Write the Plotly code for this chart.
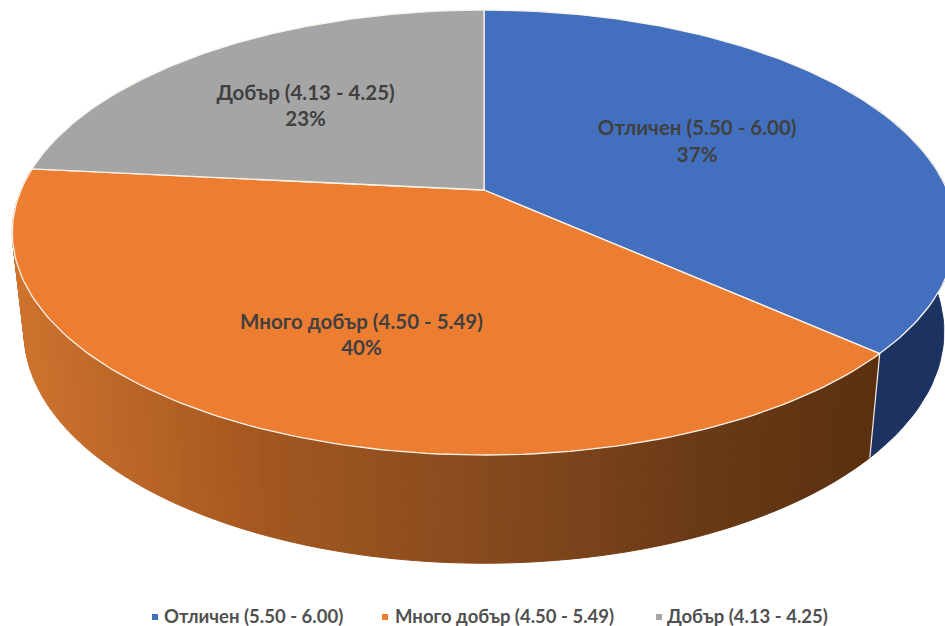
import math
import plotly.graph_objects as go

categories = ["Отличен (5.50 - 6.00)", "Много добър (4.50 - 5.49)", "Добър (4.13 - 4.25)"]
values = [36.6, 40.0, 23.4]

W, H = 945, 626
TOP_COLORS = ["#4270BF", "#ED7D31", "#A5A5A5"]
APEX_X, APEX_Y = 484, 190
A, B, K = 463, 214.4, 0.191
SIDE_STOPS = [(12, (206, 115, 46)), (250, (165, 88, 32)), (484, (135, 74, 30)), (700, (106, 58, 22)), (880, (90, 48, 15))]
BLUE_SIDE = "#1C3260"
LABEL_RADIUS = [0.52, 0.63, 0.58]
LABEL_SHIFT = [(2, -3), (9.5, 8), (-12, 3)]
KEY_MARK_X = [155, 385, 659]
KEY_TEXT_X = [164, 395, 667]
KEY_MARK_Y = 617
KEY_TEXT_Y = 618.5
TEXT_COLOR = "#404040"
FONT = "Lato, Roboto, sans-serif"


def project(t, r=1.0):
    u, v = r * math.sin(t), -r * math.cos(t)
    d = 1 - K * v
    return APEX_X + A * u / d, APEX_Y + B * v / d


def lower(x, y):
    return APEX_X + 0.975 * (x - APEX_X), 90 + 1.04 * y


def side_color(x):
    for (x0, c0), (x1, c1) in zip(SIDE_STOPS, SIDE_STOPS[1:]):
        if x <= x1:
            f = max(0, (x - x0) / (x1 - x0))
            return "rgb(%d,%d,%d)" % tuple(round(a + (b - a) * f) for a, b in zip(c0, c1))
    return "rgb(%d,%d,%d)" % SIDE_STOPS[-1][1]


total = sum(values)
edges = [0.0]
for val in values:
    edges.append(edges[-1] + val / total * 2 * math.pi)

fig = go.Figure()


def add_poly(xs, ys, fill, line_color=None, width=1.0):
    fig.add_trace(go.Scatter(x=xs, y=ys, mode="lines", fill="toself", fillcolor=fill,
                             line=dict(color=line_color or fill, width=width),
                             hoverinfo="skip", showlegend=False))


# side wall: blue part, then gradient strips of the orange part
side_start = math.radians(60)
n = 40
ts = [side_start + (edges[1] - side_start) * i / n for i in range(n + 1)]
top = [project(t) for t in ts]
bot = [lower(*p) for p in top]
add_poly([p[0] for p in top] + [p[0] for p in reversed(bot)],
         [p[1] for p in top] + [p[1] for p in reversed(bot)], BLUE_SIDE)

n = 150
ts = [edges[1] + (edges[2] - edges[1]) * i / n for i in range(n + 1)]
for t0, t1 in zip(ts, ts[1:]):
    p0, p1 = project(t0), project(t1)
    q0, q1 = lower(*p0), lower(*p1)
    add_poly([p0[0], p1[0], q1[0], q0[0], p0[0]], [p0[1], p1[1], q1[1], q0[1], p0[1]],
             side_color((p0[0] + p1[0]) / 2))

# white seam between the two walls
p = project(edges[1])
q = lower(*p)
fig.add_trace(go.Scatter(x=[p[0], q[0]], y=[p[1], q[1]], mode="lines", line=dict(color="#F4EDE6", width=1.2),
                         hoverinfo="skip", showlegend=False))

# top faces
for i, cat in enumerate(categories):
    n = 120
    pts = [project(edges[i] + (edges[i + 1] - edges[i]) * j / n) for j in range(n + 1)]
    xs = [APEX_X] + [p[0] for p in pts] + [APEX_X]
    ys = [APEX_Y] + [p[1] for p in pts] + [APEX_Y]
    add_poly(xs, ys, TOP_COLORS[i], "#FBF3EA", 1.3)

# data labels
lx, ly, lt = [], [], []
for i, cat in enumerate(categories):
    mid = (edges[i] + edges[i + 1]) / 2
    x, y = project(mid, LABEL_RADIUS[i])
    lx.append(x + LABEL_SHIFT[i][0])
    ly.append(y + LABEL_SHIFT[i][1])
    lt.append(f"<b>{cat}</b><br><b>{round(values[i])}%</b>")
fig.add_trace(go.Scatter(x=lx, y=ly, mode="text", text=lt, textposition="middle center",
                         textfont=dict(family=FONT, size=20.5, color=TEXT_COLOR),
                         hoverinfo="skip", showlegend=False))

# key below the pie
for i, cat in enumerate(categories):
    fig.add_trace(go.Scatter(x=[KEY_MARK_X[i]], y=[KEY_MARK_Y], mode="markers", name=cat, hoverinfo="skip",
                             marker=dict(symbol="square", size=6, color=TOP_COLORS[i]), showlegend=False))
    fig.add_trace(go.Scatter(x=[KEY_TEXT_X[i]], y=[KEY_TEXT_Y], mode="text", text=[f"<b>{cat}</b>"],
                             textposition="middle right", hoverinfo="skip", showlegend=False,
                             textfont=dict(family=FONT, size=18.5, color="#505050")))

fig.update_layout(
    width=W, height=H, margin=dict(l=0, r=0, t=0, b=0),
    paper_bgcolor="white", plot_bgcolor="white", showlegend=False,
    xaxis=dict(range=[0, W], visible=False, fixedrange=True),
    yaxis=dict(range=[H, 0], visible=False, fixedrange=True),
)
fig.write_html("out.html", config={"displayModeBar": False},
               post_script="document.body.style.margin='0';document.body.style.overflow='hidden';")
